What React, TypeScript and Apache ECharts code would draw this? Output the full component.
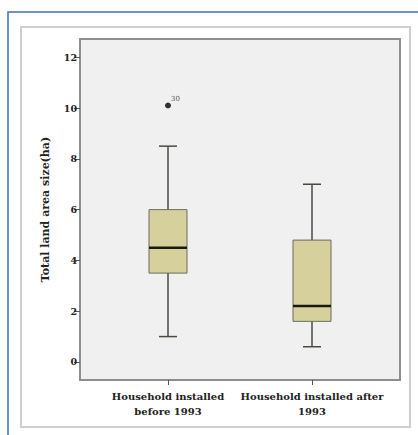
import React, { useEffect, useRef } from "react";
import * as echarts from "echarts";

const categories = ["Household installed\nbefore 1993", "Household installed after\n1993"];
// [min, Q1, median, Q3, max]
const boxMin = [1.0, 0.6];
const boxQ1 = [3.5, 1.6];
const boxMedian = [4.5, 2.2];
const boxQ3 = [6.0, 4.8];
const boxMax = [8.5, 7.0];
const outlierCat = [0];
const outlierValue = [10.1];
const outlierLabel = ["30"];
const yTicks = [0, 2, 4, 6, 8, 10, 12];
const yTitle = "Total land area size(ha)";

export default function App() {
  const ref = useRef<HTMLDivElement>(null);
  useEffect(() => {
    if (!ref.current) return;
    const chart = echarts.init(ref.current, null, { renderer: "svg" });
    const boxData = categories.map((_, i) => [i, boxMin[i], boxQ1[i], boxMedian[i], boxQ3[i], boxMax[i]]);
    const outData = outlierCat.map((c, i) => ({ value: [c, outlierValue[i]], name: outlierLabel[i] }));
    const font = "'DejaVu Serif', 'Liberation Serif', serif";
    chart.setOption({
      animation: false,
      graphic: [
        { type: "rect", z: -10, silent: true, shape: { x: 8, y: 12, width: 430, height: 440 }, style: { fill: "#ffffff", stroke: "#3b6fc6", lineWidth: 1.5 } },
        { type: "rect", z: -9, silent: true, shape: { x: 21, y: 27, width: 389, height: 400 }, style: { fill: "#ffffff", stroke: "#cfcfcf", lineWidth: 2 } },
        { type: "rect", z: -8, silent: true, shape: { x: 80, y: 39, width: 320, height: 341 }, style: { fill: "#f0f0f0", stroke: "#8e8e8e", lineWidth: 2 } },
      ],
      grid: { left: 96, width: 288, top: 39, height: 341 },
      xAxis: {
        type: "category",
        data: categories,
        boundaryGap: true,
        axisLine: { show: false, onZero: false },
        axisTick: { show: true, alignWithLabel: true, length: 5, lineStyle: { color: "#555" } },
        axisLabel: { margin: 9, fontFamily: font, fontWeight: "bold", fontSize: 10, lineHeight: 15, color: "#222", interval: 0 },
        splitLine: { show: false },
      },
      yAxis: {
        type: "value",
        min: -0.71,
        max: 12.72,
        offset: 16,
        name: yTitle,
        nameLocation: "middle",
        nameGap: 29,
        nameRotate: 90,
        nameTextStyle: { fontFamily: font, fontWeight: "bold", fontSize: 11, color: "#222" },
        axisLine: { show: false, onZero: false },
        axisTick: { show: true, length: 6, customValues: yTicks, lineStyle: { color: "#555" } },
        axisLabel: { customValues: yTicks, margin: 3, fontFamily: font, fontWeight: "bold", fontSize: 9.5, color: "#222" },
        splitLine: { show: false },
      },
      series: [
        {
          type: "custom",
          data: boxData,
          encode: { x: 0, y: [1, 2, 3, 4, 5] },
          renderItem: (params: any, api: any) => {
            const c = api.value(0);
            const pMin = api.coord([c, api.value(1)]);
            const pQ1 = api.coord([c, api.value(2)]);
            const pMed = api.coord([c, api.value(3)]);
            const pQ3 = api.coord([c, api.value(4)]);
            const pMax = api.coord([c, api.value(5)]);
            const x = pMed[0];
            const hw = 19;
            const cw = 9;
            const line = "#4a4a44";
            return {
              type: "group",
              children: [
                { type: "line", shape: { x1: x, y1: pMax[1], x2: x, y2: pQ3[1] }, style: { stroke: line, lineWidth: 1.5 } },
                { type: "line", shape: { x1: x, y1: pQ1[1], x2: x, y2: pMin[1] }, style: { stroke: line, lineWidth: 1.5 } },
                { type: "line", shape: { x1: x - cw, y1: pMax[1], x2: x + cw, y2: pMax[1] }, style: { stroke: line, lineWidth: 1.5 } },
                { type: "line", shape: { x1: x - cw, y1: pMin[1], x2: x + cw, y2: pMin[1] }, style: { stroke: line, lineWidth: 1.5 } },
                { type: "rect", shape: { x: x - hw, y: pQ3[1], width: hw * 2, height: pQ1[1] - pQ3[1] }, style: { fill: "#d6d19c", stroke: "#6e6c58", lineWidth: 1 } },
                { type: "line", shape: { x1: x - hw, y1: pMed[1], x2: x + hw, y2: pMed[1] }, style: { stroke: "#1a1a10", lineWidth: 2.5 } },
              ],
            };
          },
        },
        {
          type: "scatter",
          data: outData,
          symbol: "circle",
          symbolSize: 6,
          itemStyle: { color: "#000" },
          label: {
            show: true,
            formatter: (p: any) => p.name,
            position: [6, -7],
            fontFamily: font,
            fontSize: 7,
            color: "#222",
          },
        },
      ],
    });
    return () => chart.dispose();
  }, []);
  return <div ref={ref} style={{ position: "absolute", left: 0, top: 0, width: 418, height: 435 }} />;
}
